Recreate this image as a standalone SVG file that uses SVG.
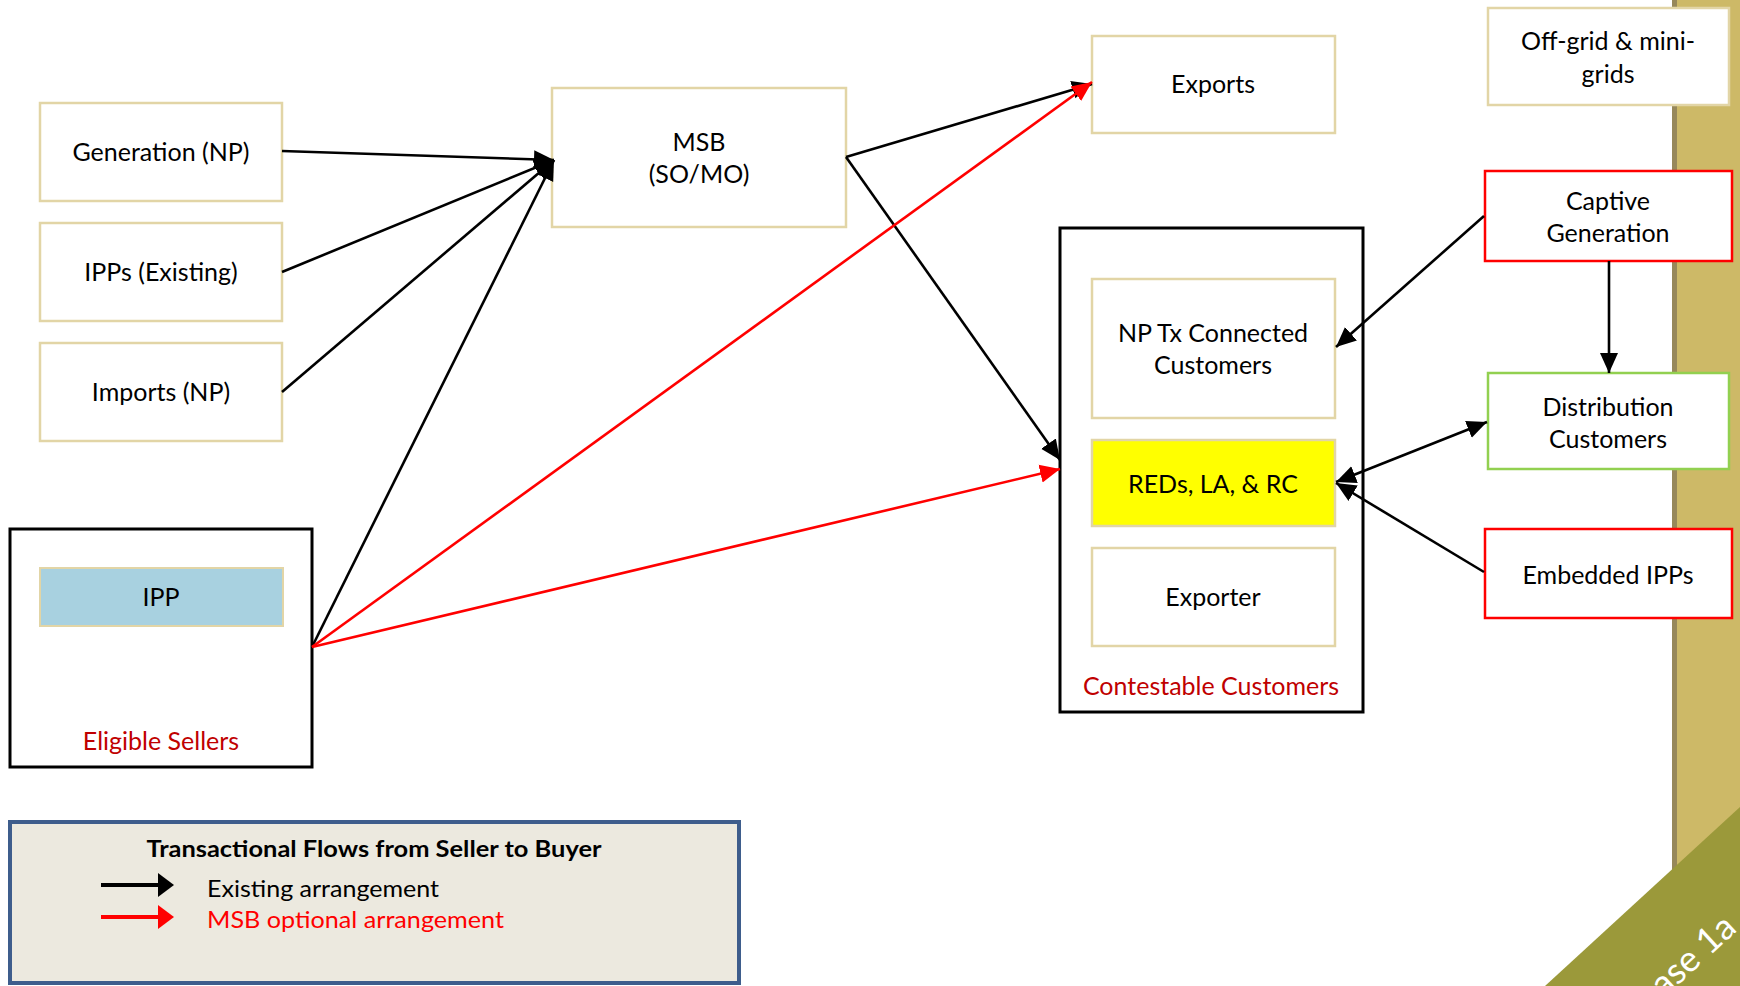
<svg xmlns="http://www.w3.org/2000/svg" width="1740" height="986" viewBox="0 0 1740 986">
<style>
.t{font-family:Lato,"Liberation Sans",sans-serif;font-size:25px;fill:#000;text-anchor:middle}
.red{fill:#c00000}
.nb{fill:#fff;stroke:#e2d5a6;stroke-width:2.5}
.grp{fill:#fff;stroke:#000;stroke-width:3}
.k{stroke:#000;stroke-width:2.6;fill:none}
.r{stroke:#ff0000;stroke-width:2.6;fill:none}
</style>
<defs>
<marker id="ak" markerUnits="userSpaceOnUse" markerWidth="22" markerHeight="20" refX="20" refY="10" orient="auto-start-reverse" viewBox="0 0 22 20"><path d="M0,1 L20,10 L0,19 z" fill="#000"/></marker>
<marker id="ar" markerUnits="userSpaceOnUse" markerWidth="22" markerHeight="20" refX="20" refY="10" orient="auto" viewBox="0 0 22 20"><path d="M0,1 L20,10 L0,19 z" fill="#ff0000"/></marker>
</defs>
<rect width="1740" height="986" fill="#fff"/>
<g id="band">
<rect x="1676" y="0" width="64" height="986" fill="#cdb967"/>
<rect x="1672" y="0" width="5" height="880" fill="#97885a"/>
<polygon points="1740,807 1740,986 1545,986" fill="#9b993a"/>
<text x="1664" y="998" transform="rotate(-42.5 1664 998)" font-family="Lato,'Liberation Sans',sans-serif" font-size="36" fill="#fff">ase 1a</text>
</g>
<g id="eligible"><rect class="grp" x="10" y="529" width="302" height="238"/><text class="t red" x="161" y="750">Eligible Sellers</text></g>
<g id="contestable"><rect class="grp" x="1060" y="228" width="303" height="484"/><text class="t red" x="1211" y="695">Contestable Customers</text></g>
<g id="gen"><rect class="nb" x="40" y="103" width="242" height="98"/><text class="t" x="161" y="161">Generation (NP)</text></g>
<g id="ipps"><rect class="nb" x="40" y="223" width="242" height="98"/><text class="t" x="161" y="281">IPPs (Existing)</text></g>
<g id="imports"><rect class="nb" x="40" y="343" width="242" height="98"/><text class="t" x="161" y="401">Imports (NP)</text></g>
<g id="ipp"><rect x="40" y="568" width="243" height="58" fill="#a8d1e0" stroke="#e2d5a6" stroke-width="2"/><text class="t" x="161" y="606">IPP</text></g>
<g id="msb"><rect class="nb" x="552" y="88" width="294" height="139"/><text class="t" x="699" y="151">MSB</text><text class="t" x="699" y="183">(SO/MO)</text></g>
<g id="exports"><rect class="nb" x="1092" y="36" width="243" height="97"/><text class="t" x="1213" y="93">Exports</text></g>
<g id="nptx"><rect class="nb" x="1092" y="279" width="243" height="139"/><text class="t" x="1213" y="342">NP Tx Connected</text><text class="t" x="1213" y="374">Customers</text></g>
<g id="reds"><rect x="1092" y="440" width="243" height="86" fill="#ffff00" stroke="#e2d5a6" stroke-width="2.5"/><text class="t" x="1213" y="493">REDs, LA, &amp; RC</text></g>
<g id="exporter"><rect class="nb" x="1092" y="548" width="243" height="98"/><text class="t" x="1213" y="606">Exporter</text></g>
<g id="offgrid"><rect class="nb" x="1488" y="8" width="241" height="97"/><text class="t" x="1608" y="50">Off-grid &amp; mini-</text><text class="t" x="1608" y="83">grids</text></g>
<g id="captive"><rect x="1485" y="171" width="247" height="90" fill="#fff" stroke="#ff0000" stroke-width="2.5"/><text class="t" x="1608" y="210">Captive</text><text class="t" x="1608" y="242">Generation</text></g>
<g id="dist"><rect x="1488" y="373" width="241" height="96" fill="#fff" stroke="#92d050" stroke-width="2.5"/><text class="t" x="1608" y="416">Distribution</text><text class="t" x="1608" y="448">Customers</text></g>
<g id="embedded"><rect x="1485" y="529" width="247" height="89" fill="#fff" stroke="#ff0000" stroke-width="2.5"/><text class="t" x="1608" y="584">Embedded IPPs</text></g>
<g id="connectors">
<line class="k" x1="282" y1="151" x2="554" y2="160" marker-end="url(#ak)"/>
<line class="k" x1="282" y1="272" x2="554" y2="160" marker-end="url(#ak)"/>
<line class="k" x1="282" y1="392" x2="554" y2="160" marker-end="url(#ak)"/>
<line class="k" x1="312" y1="647" x2="554" y2="160" marker-end="url(#ak)"/>
<line class="k" x1="846" y1="157" x2="1092" y2="84" marker-end="url(#ak)"/>
<line class="k" x1="846" y1="157" x2="1060" y2="460" marker-end="url(#ak)"/>
<line class="r" x1="312" y1="647" x2="1092" y2="82" marker-end="url(#ar)"/>
<line class="r" x1="312" y1="647" x2="1060" y2="469" marker-end="url(#ar)"/>
<line class="k" x1="1484" y1="216" x2="1336" y2="347" marker-end="url(#ak)"/>
<line class="k" x1="1609" y1="261" x2="1609" y2="373" marker-end="url(#ak)"/>
<line class="k" x1="1336" y1="482" x2="1487" y2="422" marker-start="url(#ak)" marker-end="url(#ak)"/>
<line class="k" x1="1484" y1="572" x2="1336" y2="483" marker-end="url(#ak)"/>
</g>
<g id="legend">
<rect x="10" y="822" width="729" height="161" fill="#ece9df" stroke="#3e5d8c" stroke-width="4"/>
<text x="374" y="857" font-family="Lato,'Liberation Sans',sans-serif" font-size="23" font-weight="bold" text-anchor="middle" textLength="455" lengthAdjust="spacingAndGlyphs">Transactional Flows from Seller to Buyer</text>
<line x1="101" y1="885" x2="160" y2="885" stroke="#000" stroke-width="4"/>
<polygon points="158,873 174,885 158,897" fill="#000"/>
<line x1="101" y1="917" x2="160" y2="917" stroke="#ff0000" stroke-width="4"/>
<polygon points="158,905 174,917 158,929" fill="#ff0000"/>
<text x="207" y="897" font-family="Lato,'Liberation Sans',sans-serif" font-size="24" textLength="232" lengthAdjust="spacingAndGlyphs">Existing arrangement</text>
<text x="207" y="928" font-family="Lato,'Liberation Sans',sans-serif" font-size="24" fill="#ff0000" textLength="297" lengthAdjust="spacingAndGlyphs">MSB optional arrangement</text>
</g>
</svg>
